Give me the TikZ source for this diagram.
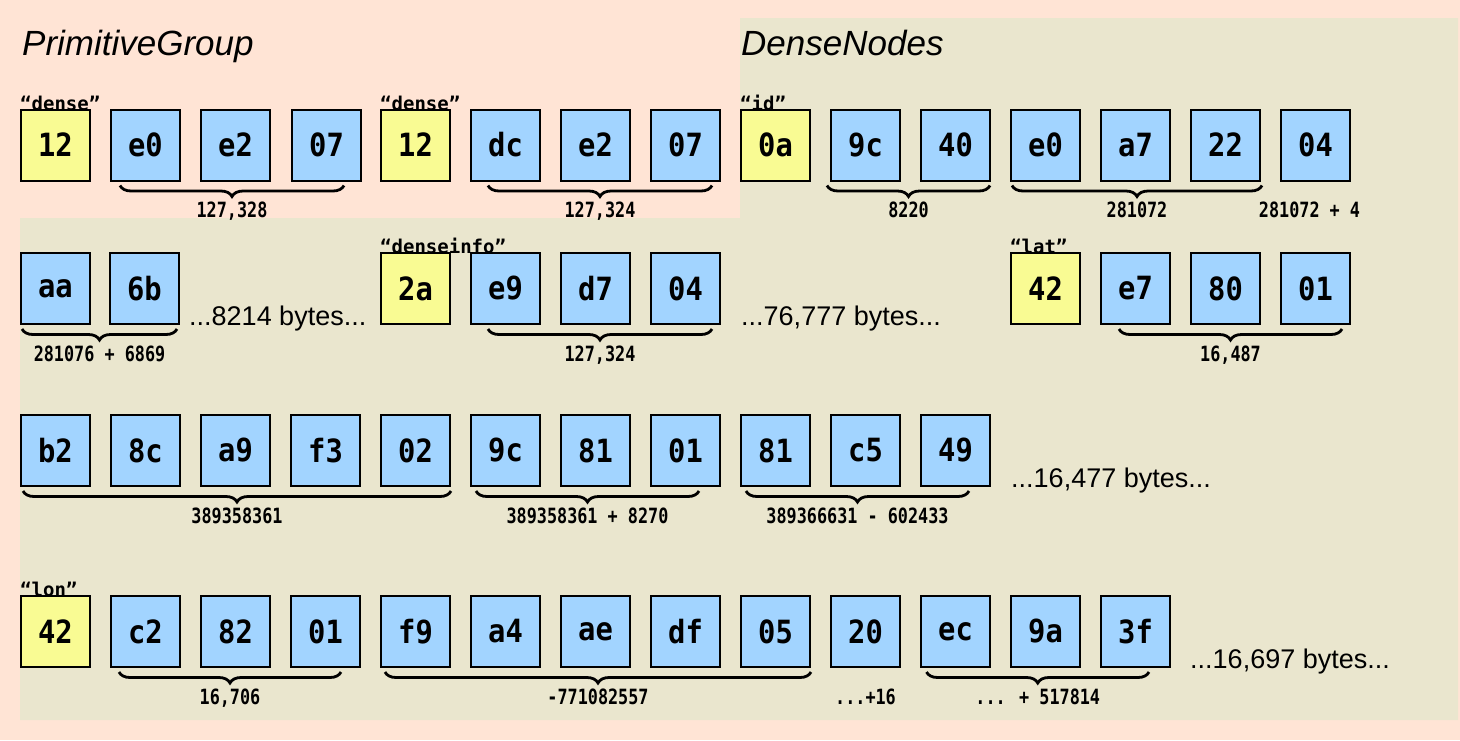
\documentclass[tikz,border=0pt]{standalone}
\usepackage{fontspec}
\setmainfont{Liberation Sans}
\newfontfamily\monob{DejaVu Sans Mono Bold}[FakeStretch=0.9]
\newfontfamily\monotag{DejaVu Sans Mono Bold}
\newfontfamily\monocond{DejaVu Sans Mono Bold}[FakeStretch=0.8]
\usetikzlibrary{decorations.pathreplacing,calc}
\definecolor{salmonbg}{HTML}{FFE4D5}
\definecolor{olivebg}{HTML}{EAE6CE}
\definecolor{yellowfill}{HTML}{F9FB93}
\definecolor{bluefill}{HTML}{A2D4FF}
\begin{document}
\begin{tikzpicture}[x=1pt,y=-1pt,
  byte/.style={draw, line width=2pt, minimum width=69pt, minimum height=71pt, inner sep=0pt,
    fill=bluefill, font=\monob\fontsize{32}{32}\selectfont},
  keybox/.style={byte, fill=yellowfill},
  tag/.style={anchor=base west, inner sep=0pt, font=\monotag\fontsize{19}{19}\selectfont},
  brc/.style={decorate, decoration={brace, mirror, amplitude=11pt}, line width=2.8pt},
  blab/.style={midway, anchor=base, inner sep=0pt, yshift=-32pt, font=\monocond\fontsize{21}{21}\selectfont},
  freelab/.style={anchor=base, inner sep=0pt, font=\monocond\fontsize{21}{21}\selectfont},
  gaptext/.style={anchor=base west, inner sep=0pt, font=\fontsize{27}{27}\selectfont},
  title/.style={anchor=base west, inner sep=0pt, font=\itshape\fontsize{35}{35}\selectfont}]
\useasboundingbox (0,0) rectangle (1460,740);
\fill[salmonbg] (0,0) rectangle (1460,740);
\fill[olivebg] (740,18) -- (1458,18) -- (1458,720) -- (20,720) -- (20,218) -- (740,218) -- cycle;
\node[title] (tpg) at (22,55) {PrimitiveGroup};
\node[title] (tdn) at (741,55) {DenseNodes};
% row 1
\node[keybox] (a0) at (55.5,145) {12};
\node[byte] (a1) at (145.5,145) {e0};
\node[byte] (a2) at (235.5,145) {e2};
\node[byte] (a3) at (326.5,145) {07};
\node[keybox] (a4) at (415.5,145) {12};
\node[byte] (a5) at (505.5,145) {dc};
\node[byte] (a6) at (595.5,145) {e2};
\node[byte] (a7) at (685.5,145) {07};
\node[keybox] (a8) at (775.5,145) {0a};
\node[byte] (a9) at (865.5,145) {9c};
\node[byte] (a10) at (955.5,145) {40};
\node[byte] (a11) at (1045.5,145) {e0};
\node[byte] (a12) at (1135.5,145) {a7};
\node[byte] (a13) at (1225.5,145) {22};
\node[byte] (a14) at (1315.5,145) {04};
\node[tag] (t0) at ([yshift=-1.5pt]a0.north west) {“dense”};
\node[tag] (t1) at ([yshift=-1.5pt]a4.north west) {“dense”};
\node[tag] (t2) at ([yshift=-1.5pt]a8.north west) {“id”};
\draw[brc] ([shift={(10,4)}]a1.south west) -- ([shift={(-18,4)}]a3.south east) node[blab] (l1) {127,328};
\draw[brc] ([shift={(18,4)}]a5.south west) -- ([shift={(-9,4)}]a7.south east) node[blab] (l2) {127,324};
\draw[brc] ([shift={(-3,4)}]a9.south west) -- ([shift={(-1,4)}]a10.south east) node[blab] (l3) {8220};
\draw[brc] ([shift={(2,4)}]a11.south west) -- ([shift={(1,4)}]a13.south east) node[blab] (l4) {281072};
\node[freelab] (l5) at ([shift={(-6,36)}]a14.south) {281072 + 4};
% row 2
\node[byte] (b0) at (55.5,288.5) {aa};
\node[byte] (b1) at (144.5,288.5) {6b};
\node[keybox] (b2) at (415.5,288.5) {2a};
\node[byte] (b3) at (505.5,288.5) {e9};
\node[byte] (b4) at (595.5,288.5) {d7};
\node[byte] (b5) at (685.5,288.5) {04};
\node[keybox] (b6) at (1045.5,288.5) {42};
\node[byte] (b7) at (1135.5,288.5) {e7};
\node[byte] (b8) at (1225.5,288.5) {80};
\node[byte] (b9) at (1315.5,288.5) {01};
\node[tag] (t3) at ([yshift=-1.5pt]b2.north west) {“denseinfo”};
\node[tag] (t4) at ([yshift=-1.5pt]b6.north west) {“lat”};
\draw[brc] ([shift={(2,4)}]b0.south west) -- ([shift={(-3,4)}]b1.south east) node[blab] (l6) {281076 + 6869};
\draw[brc] ([shift={(18,4)}]b3.south west) -- ([shift={(-9,4)}]b5.south east) node[blab] (l7) {127,324};
\draw[brc] ([shift={(19,4)}]b7.south west) -- ([shift={(-9,4)}]b9.south east) node[blab] (l8) {16,487};
\node[gaptext] (g1) at ([xshift=9pt]b1.south east) {...8214 bytes...};
\node[gaptext] (g2) at ([xshift=20pt]b5.south east) {...76,777 bytes...};
% row 3
\node[byte] (c0) at (55.5,450.5) {b2};
\node[byte] (c1) at (145.5,450.5) {8c};
\node[byte] (c2) at (235.5,450.5) {a9};
\node[byte] (c3) at (325.5,450.5) {f3};
\node[byte] (c4) at (415.5,450.5) {02};
\node[byte] (c5) at (505.5,450.5) {9c};
\node[byte] (c6) at (595.5,450.5) {81};
\node[byte] (c7) at (685.5,450.5) {01};
\node[byte] (c8) at (775.5,450.5) {81};
\node[byte] (c9) at (865.5,450.5) {c5};
\node[byte] (c10) at (955.5,450.5) {49};
\draw[brc] ([shift={(3,4)}]c0.south west) -- ([shift={(0,4)}]c4.south east) node[blab] (l9) {389358361};
\draw[brc] ([shift={(6,4)}]c5.south west) -- ([shift={(-22,4)}]c7.south east) node[blab] (l10) {389358361 + 8270};
\draw[brc] ([shift={(6,4)}]c8.south west) -- ([shift={(-22,4)}]c10.south east) node[blab] (l11) {389366631 - 602433};
\node[gaptext] (g3) at ([xshift=20pt]c10.south east) {...16,477 bytes...};
% row 4
\node[keybox] (d0) at (55.5,631.5) {42};
\node[byte] (d1) at (145.5,631.5) {c2};
\node[byte] (d2) at (235.5,631.5) {82};
\node[byte] (d3) at (325.5,631.5) {01};
\node[byte] (d4) at (415.5,631.5) {f9};
\node[byte] (d5) at (505.5,631.5) {a4};
\node[byte] (d6) at (595.5,631.5) {ae};
\node[byte] (d7) at (685.5,631.5) {df};
\node[byte] (d8) at (775.5,631.5) {05};
\node[byte] (d9) at (865.5,631.5) {20};
\node[byte] (d10) at (955.5,631.5) {ec};
\node[byte] (d11) at (1045.5,631.5) {9a};
\node[byte] (d12) at (1135.5,631.5) {3f};
\node[tag] (t5) at ([yshift=-1.5pt]d0.north west) {“lon”};
\draw[brc] ([shift={(9,4)}]d1.south west) -- ([shift={(-20,4)}]d3.south east) node[blab] (l12) {16,706};
\draw[brc] ([shift={(5,4)}]d4.south west) -- ([shift={(0,4)}]d8.south east) node[blab] (l13) {-771082557};
\node[freelab] (l14) at ([shift={(0,36)}]d9.south) {...+16};
\draw[brc] ([shift={(6.5,4)}]d10.south west) -- ([shift={(-22,4)}]d12.south east) node[blab] (l15) {... + 517814};
\node[gaptext] (g4) at ([xshift=19pt]d12.south east) {...16,697 bytes...};
\end{tikzpicture}
\end{document}
